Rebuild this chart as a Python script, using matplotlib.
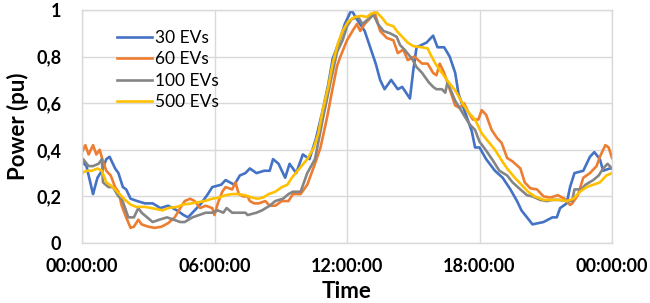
import numpy as np
import matplotlib
matplotlib.use("Agg")
import matplotlib.pyplot as plt

plt.rcParams["font.family"] = ["Lato", "DejaVu Sans"]

# hours since midnight, power in pu
hours_30 = [0.0, 0.2, 0.45, 0.5, 0.7, 0.9, 1.1, 1.25, 1.5, 1.65, 1.85, 2.0, 2.2, 2.5, 2.85,
            3.2, 3.55, 3.9, 4.3, 4.6, 4.8, 5.1, 5.4, 5.7, 5.9, 6.3, 6.5, 6.9, 7.15, 7.4,
            7.6, 7.9, 8.25, 8.5, 8.65, 8.9, 9.2, 9.4, 9.7, 10.0, 10.3, 10.6, 10.9, 11.15,
            11.35, 11.7, 11.9, 12.2, 12.45, 12.8, 13.05, 13.3, 13.5, 13.7, 14.0, 14.3, 14.5,
            14.85, 15.0, 15.15, 15.6, 15.9, 16.1, 16.4, 16.65, 16.9, 17.05, 17.35, 17.65,
            17.8, 18.0, 18.3, 18.7, 19.05, 19.4, 19.7, 19.9, 20.15, 20.4, 20.9, 21.3, 21.5,
            21.65, 21.95, 22.1, 22.3, 22.7, 23.0, 23.2, 23.45, 23.6, 23.9, 24.0]
ev_30 = [0.35, 0.33, 0.23, 0.21, 0.28, 0.31, 0.36, 0.37, 0.32, 0.30, 0.24, 0.23, 0.19, 0.18,
         0.17, 0.17, 0.15, 0.16, 0.14, 0.12, 0.11, 0.14, 0.17, 0.21, 0.24, 0.25, 0.27, 0.25,
         0.29, 0.30, 0.32, 0.30, 0.31, 0.31, 0.36, 0.34, 0.28, 0.34, 0.30, 0.38, 0.36, 0.45,
         0.57, 0.68, 0.79, 0.88, 0.94, 1.0, 0.96, 0.91, 0.84, 0.77, 0.70, 0.66, 0.70, 0.66,
         0.67, 0.62, 0.74, 0.84, 0.86, 0.89, 0.84, 0.84, 0.80, 0.73, 0.64, 0.56, 0.48, 0.41,
         0.41, 0.36, 0.31, 0.28, 0.23, 0.18, 0.14, 0.11, 0.08, 0.09, 0.11, 0.11, 0.15, 0.17,
         0.24, 0.30, 0.31, 0.37, 0.39, 0.36, 0.31, 0.32, 0.32]

hours_60 = [0.0, 0.15, 0.3, 0.5, 0.65, 0.8, 0.95, 1.1, 1.3, 1.5, 1.65, 1.8, 2.0, 2.2, 2.35,
            2.55, 2.7, 3.0, 3.3, 3.6, 3.9, 4.2, 4.45, 4.65, 4.9, 5.1, 5.35, 5.6, 5.9, 6.0,
            6.15, 6.35, 6.5, 6.8, 6.95, 7.1, 7.3, 7.5, 7.6, 7.8, 8.0, 8.3, 8.5, 8.75, 9.05,
            9.35, 9.55, 9.9, 10.2, 10.55, 10.8, 11.1, 11.3, 11.55, 11.7, 12.0, 12.25, 12.45,
            12.6, 12.8, 13.05, 13.25, 13.5, 13.8, 14.1, 14.3, 14.55, 14.75, 15.05, 15.4,
            15.65, 15.9, 16.05, 16.2, 16.4, 16.65, 16.9, 17.1, 17.3, 17.5, 17.7, 17.95, 18.1,
            18.3, 18.55, 18.8, 19.0, 19.25, 19.5, 19.85, 20.05, 20.3, 20.6, 20.9, 21.2,
            21.55, 21.85, 22.1, 22.2, 22.45, 22.7, 23.0, 23.3, 23.45, 23.7, 23.85, 24.0]
ev_60 = [0.39, 0.42, 0.38, 0.42, 0.38, 0.40, 0.35, 0.31, 0.29, 0.24, 0.22, 0.16, 0.11, 0.065,
         0.07, 0.10, 0.08, 0.07, 0.065, 0.07, 0.085, 0.11, 0.15, 0.18, 0.19, 0.18, 0.15, 0.16,
         0.15, 0.12, 0.17, 0.22, 0.24, 0.23, 0.26, 0.21, 0.20, 0.20, 0.18, 0.17, 0.17, 0.18,
         0.16, 0.16, 0.18, 0.18, 0.21, 0.21, 0.25, 0.34, 0.41, 0.54, 0.64, 0.76, 0.80, 0.87,
         0.91, 0.94, 0.91, 0.94, 0.965, 0.99, 0.91, 0.88, 0.87, 0.815, 0.83, 0.785, 0.80,
         0.77, 0.77, 0.73, 0.72, 0.77, 0.73, 0.66, 0.59, 0.58, 0.60, 0.56, 0.53, 0.53, 0.57,
         0.55, 0.485, 0.45, 0.43, 0.365, 0.35, 0.32, 0.26, 0.235, 0.23, 0.20, 0.195, 0.205,
         0.19, 0.163, 0.17, 0.205, 0.28, 0.30, 0.33, 0.37, 0.42, 0.41, 0.365]

hours_100 = [0.0, 0.05, 0.3, 0.5, 0.75, 0.9, 0.95, 1.2, 1.4, 1.65, 1.8, 1.95, 2.1, 2.35, 2.55,
             2.7, 2.95, 3.2, 3.5, 3.85, 4.15, 4.45, 4.65, 5.0, 5.3, 5.6, 5.9, 6.15, 6.4, 6.55,
             6.8, 7.05, 7.4, 7.5, 7.9, 8.15, 8.5, 8.75, 9.1, 9.35, 9.55, 9.9, 10.2, 10.55,
             10.9, 11.25, 11.55, 11.8, 12.0, 12.2, 12.5, 12.7, 12.95, 13.2, 13.4, 13.65,
             13.95, 14.25, 14.4, 14.6, 14.95, 15.15, 15.4, 15.7, 15.9, 16.05, 16.3, 16.45,
             16.55, 16.9, 17.1, 17.35, 17.55, 17.8, 18.0, 18.35, 18.6, 18.9, 19.25, 19.5,
             19.85, 20.15, 20.4, 20.75, 21.05, 21.3, 21.6, 21.95, 22.2, 22.3, 22.6, 22.8,
             23.15, 23.4, 23.6, 23.8, 24.0]
ev_100 = [0.34, 0.36, 0.33, 0.33, 0.34, 0.36, 0.26, 0.24, 0.24, 0.20, 0.19, 0.15, 0.11, 0.11,
          0.15, 0.13, 0.11, 0.09, 0.10, 0.11, 0.10, 0.09, 0.09, 0.11, 0.12, 0.13, 0.13, 0.14,
          0.13, 0.15, 0.13, 0.13, 0.13, 0.12, 0.13, 0.14, 0.16, 0.18, 0.19, 0.21, 0.22, 0.22,
          0.30, 0.36, 0.53, 0.69, 0.82, 0.87, 0.93, 0.96, 0.97, 0.94, 0.96, 0.98, 0.94, 0.91,
          0.90, 0.885, 0.85, 0.83, 0.79, 0.755, 0.73, 0.69, 0.67, 0.66, 0.66, 0.645, 0.69,
          0.61, 0.58, 0.54, 0.51, 0.485, 0.435, 0.39, 0.355, 0.31, 0.29, 0.26, 0.23, 0.205,
          0.20, 0.185, 0.18, 0.185, 0.185, 0.18, 0.18, 0.23, 0.23, 0.25, 0.27, 0.29, 0.32,
          0.34, 0.32]

hours_500 = [0.0, 0.2, 0.45, 0.7, 0.9, 1.1, 1.4, 1.7, 1.95, 2.2, 2.45, 2.85, 3.15, 3.65, 3.9,
             4.3, 4.6, 4.95, 5.25, 5.55, 5.9, 6.2, 6.5, 6.8, 7.05, 7.4, 7.7, 7.95, 8.2, 8.45,
             8.75, 9.05, 9.3, 9.5, 9.85, 10.2, 10.5, 10.7, 10.9, 11.15, 11.35, 11.6, 11.8,
             12.05, 12.35, 12.65, 12.9, 13.1, 13.35, 13.6, 13.8, 14.1, 14.3, 14.5, 14.75,
             15.0, 15.4, 15.65, 15.75, 16.0, 16.3, 16.6, 16.9, 17.2, 17.5, 17.8, 18.1, 18.4,
             18.7, 19.0, 19.25, 19.6, 19.9, 20.2, 20.5, 20.9, 21.25, 21.65, 21.95, 22.25,
             22.55, 22.85, 23.15, 23.45, 23.75, 24.0]
ev_500 = [0.30, 0.31, 0.31, 0.32, 0.31, 0.26, 0.24, 0.21, 0.185, 0.165, 0.155, 0.155, 0.15,
          0.14, 0.15, 0.155, 0.165, 0.17, 0.175, 0.18, 0.19, 0.195, 0.205, 0.21, 0.21, 0.205,
          0.195, 0.19, 0.195, 0.21, 0.22, 0.24, 0.25, 0.28, 0.32, 0.36, 0.41, 0.47, 0.57,
          0.67, 0.77, 0.86, 0.91, 0.95, 0.97, 0.975, 0.97, 0.985, 0.99, 0.965, 0.94, 0.93,
          0.905, 0.885, 0.86, 0.845, 0.84, 0.835, 0.815, 0.77, 0.73, 0.69, 0.655, 0.605,
          0.56, 0.53, 0.47, 0.435, 0.40, 0.355, 0.32, 0.28, 0.25, 0.22, 0.20, 0.185, 0.185,
          0.185, 0.18, 0.19, 0.22, 0.24, 0.25, 0.26, 0.29, 0.30]

series = [
    ("30 EVs", hours_30, ev_30, "#4472C4"),
    ("60 EVs", hours_60, ev_60, "#ED7D31"),
    ("100 EVs", hours_100, ev_100, "#858585"),
    ("500 EVs", hours_500, ev_500, "#FFC000"),
]

x_ticks = [0, 6, 12, 18, 24]
x_labels = ["00:00:00", "06:00:00", "12:00:00", "18:00:00", "00:00:00"]
y_ticks = [0, 0.2, 0.4, 0.6, 0.8, 1.0]
y_labels = ["0", "0,2", "0,4", "0,6", "0,8", "1"]

fig = plt.figure(figsize=(6.5, 3.03), dpi=100)
ax = fig.add_axes([82 / 650, 1 - 243 / 303, 530 / 650, 233 / 303])

for label, h, v, color in series:
    ax.plot(h, v, color=color, linewidth=1.9, label=label)

ax.set_xlim(0, 24)
ax.set_ylim(0, 1)
ax.set_xticks(x_ticks)
ax.set_xticklabels(x_labels, fontsize=13, fontweight="bold")
ax.set_yticks(y_ticks)
ax.set_yticklabels(y_labels, fontsize=13, fontweight="bold")
ax.tick_params(axis="x", length=0, pad=10.5)
ax.tick_params(axis="y", length=0, pad=15)

ax.grid(True, color="#D9D9D9", linewidth=1)
ax.set_axisbelow(True)
for s in ax.spines.values():
    s.set_color("#D9D9D9")
    s.set_linewidth(1)

ax.set_xlabel("Time", fontsize=16, fontweight="bold", va="center")
ax.xaxis.set_label_coords(0.5, (243 - 292) / 233)
ax.set_ylabel("Power (pu)", fontsize=16, fontweight="bold", va="center")
ax.yaxis.set_label_coords((18 - 82) / 530, 0.5)

ax.legend(loc="upper left", bbox_to_anchor=(0.066, 0.915), frameon=False,
          fontsize=12.5, handlelength=2.0, handletextpad=0.17, labelspacing=0.32,
          borderpad=0, borderaxespad=0)

fig.savefig("out.png", dpi=100)
